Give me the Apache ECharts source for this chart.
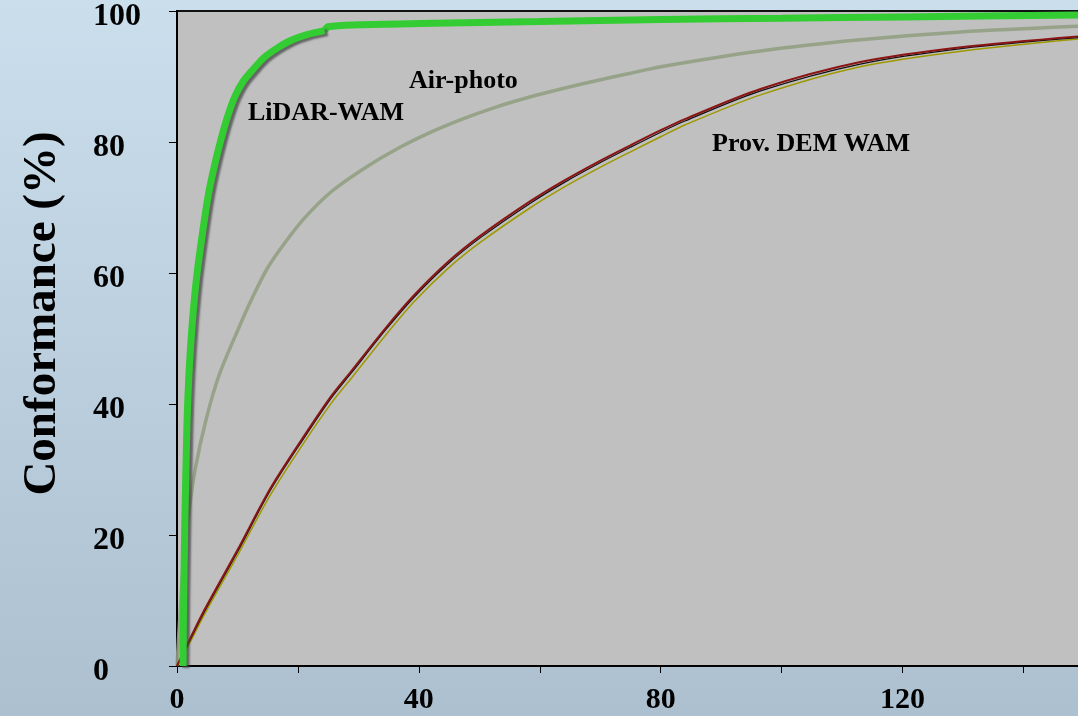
<!DOCTYPE html>
<html>
<head>
<meta charset="utf-8">
<script src="https://cdn.jsdelivr.net/npm/echarts@6/dist/echarts.min.js"></script>
<style>html,body{margin:0;padding:0;}#c{width:1078px;height:716px;}</style>
</head>
<body>
<div id="c"></div>
<script>
// ---- data ----
const xTicks = [0, 40, 80, 120];
const yTicks = [0, 20, 40, 60, 80, 100];

const lidarHeadX = [1, 1.1, 1.3, 1.65, 2.0, 2.5, 3.2, 4.2, 5.2, 6.2, 7.3, 8.4, 9.6, 10.9, 12.5, 14.4, 16.5, 18.8, 21.5, 24.4];
const lidarHeadY = [0, 10, 22, 37, 45, 52, 59, 66, 72, 76.4, 80.5, 84, 87, 89.2, 91.0, 92.9, 94.3, 95.5, 96.4, 97.0];
const lidarTailX = [24.4, 25, 30, 40, 60, 80, 100, 120, 150];
const lidarTailY = [97.0, 97.6, 97.9, 98.1, 98.4, 98.7, 98.9, 99.1, 99.4];

const airX = [0, 0.5, 1.0, 1.8, 3.0, 4.8, 7.0, 10.3, 12.5, 15.0, 18.0, 21.0, 25.5, 31, 36.5, 42, 47.5, 53, 58.5, 64, 69.5, 75, 80, 96.5, 113, 129.6, 150];
const airY = [0, 8, 15, 22.3, 30, 37.6, 44.5, 51.8, 56.3, 60.8, 64.8, 68.3, 72.4, 76.0, 79.0, 81.5, 83.6, 85.4, 86.9, 88.2, 89.4, 90.5, 91.5, 93.9, 95.6, 96.8, 97.7];

const demX = [0, 1.5, 4.5, 10, 15.5, 21, 25.5, 28.8, 34.5, 39.2, 44.7, 50.2, 58.5, 64, 69.5, 75, 80, 84, 96.5, 113, 130, 150];
const demRed = [0, 2.9, 8.5, 17.7, 27.2, 35.1, 41.2, 45.0, 51.6, 56.6, 61.6, 65.7, 71.0, 74.1, 76.9, 79.5, 81.8, 83.5, 88.1, 92.2, 94.5, 96.2];
const demBlack = [0, 2.7, 8.2, 17.4, 26.9, 34.8, 40.9, 44.7, 51.3, 56.3, 61.3, 65.4, 70.7, 73.8, 76.6, 79.2, 81.5, 83.2, 87.8, 91.9, 94.3, 96.0];
const demOlive = [0, 2.4, 7.8, 16.9, 26.2, 34.1, 40.1, 43.9, 50.5, 55.6, 60.6, 64.7, 70.0, 73.1, 75.9, 78.5, 80.8, 82.6, 87.2, 91.5, 93.9, 95.8];

const yTitle = 'Conformance (%)';
const labels = ['LiDAR-WAM', 'Air-photo', 'Prov. DEM WAM'];

// ---- helpers ----
const zip = (xs, ys) => xs.map((x, i) => [x, ys[i]]);
const font = '"Liberation Serif", "Times New Roman", serif';

const chart = echarts.init(document.getElementById('c'), null, {renderer: 'canvas'});

function line(name, data, color, width, extra) {
  return Object.assign({
    name: name, type: 'line', data: data, showSymbol: false, symbol: 'none',
    smooth: 0.3, animation: false,
    lineStyle: {color: color, width: width}
  }, extra || {});
}

chart.setOption({
  backgroundColor: {
    type: 'linear', x: 0, y: 0, x2: 0, y2: 1,
    colorStops: [{offset: 0, color: '#cbdeec'}, {offset: 1, color: '#adc0d0'}]
  },
  animation: false,
  grid: {
    left: 177, top: 11, width: 907, height: 655,
    containLabel: false, outerBoundsMode: 'none',
    show: true, backgroundColor: '#c0c0c0', borderColor: '#111', borderWidth: 2
  },
  xAxis: {
    type: 'value', min: 0, max: 150, interval: 20,
    axisLine: {lineStyle: {color: '#000', width: 2}},
    axisTick: {show: true, length: 7, lineStyle: {color: '#000', width: 1}},
    splitLine: {show: false},
    axisLabel: {
      margin: 19, color: '#000', fontFamily: font, fontWeight: 'bold', fontSize: 30,
      showMaxLabel: false,
      formatter: v => xTicks.includes(v) ? String(v) : ''
    }
  },
  yAxis: {
    type: 'value', min: 0, max: 100, interval: 20,
    axisLine: {show: true, lineStyle: {color: '#000', width: 2}},
    axisTick: {show: true, length: 8, lineStyle: {color: '#000', width: 1}},
    splitLine: {show: false},
    axisLabel: {
      margin: 84, align: 'left', verticalAlign: 'top', lineHeight: 12,
      color: '#000', fontFamily: font, fontWeight: 'bold', fontSize: 32,
      formatter: v => yTicks.includes(v) ? String(v) : ''
    },
    name: yTitle, nameLocation: 'middle', nameGap: 111, nameRotate: 90,
    nameTextStyle: {color: '#000', fontFamily: font, fontWeight: 'bold', fontSize: 47, padding: [0, 0, 0, 50]}
  },
  series: [
    line('Air-photo', zip(airX, airY), 'rgba(145,160,130,0.9)', 3.5),
    line('Prov. DEM WAM (olive)', zip(demX, demOlive), '#9e9800', 1.5),
    line('Prov. DEM WAM (black)', zip(demX, demBlack), '#111', 1.2),
    line('Prov. DEM WAM', zip(demX, demRed), '#8b1414', 2),
    line('LiDAR-WAM tail', zip(lidarTailX, lidarTailY), '#33cc33', 7),
    line('LiDAR-WAM', zip(lidarHeadX, lidarHeadY), '#33cc33', 7, {
      lineStyle: {color: '#33cc33', width: 7, shadowColor: 'rgba(70,70,70,0.75)', shadowBlur: 2, shadowOffsetX: 3, shadowOffsetY: 2}
    })
  ],
  graphic: [
    {type: 'text', left: 248, top: 100, style: {text: labels[0], font: 'bold 26px ' + font, fill: '#000'}},
    {type: 'text', left: 409, top: 68, style: {text: labels[1], font: 'bold 26px ' + font, fill: '#000'}},
    {type: 'text', left: 712, top: 131, style: {text: labels[2], font: 'bold 26px ' + font, fill: '#000'}}
  ]
});
</script>
</body>
</html>
